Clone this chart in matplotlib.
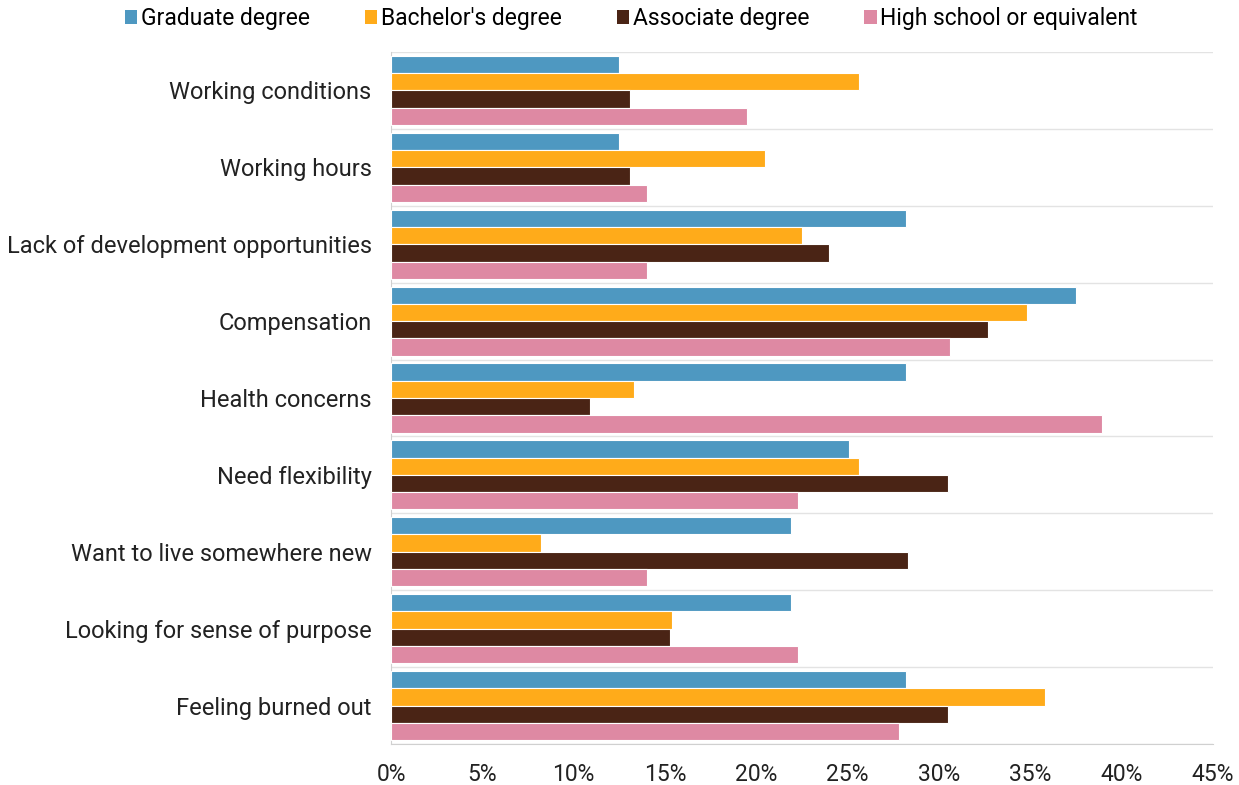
import matplotlib
matplotlib.use("Agg")
import matplotlib.pyplot as plt
import numpy as np
from matplotlib.ticker import FuncFormatter, MultipleLocator, FixedLocator
from matplotlib.patches import Patch

categories = ["Working conditions", "Working hours", "Lack of development opportunities",
              "Compensation", "Health concerns", "Need flexibility",
              "Want to live somewhere new", "Looking for sense of purpose", "Feeling burned out"]
series_names = ["Graduate degree", "Bachelor's degree", "Associate degree", "High school or equivalent"]
graduate = [12.5, 12.5, 28.2, 37.5, 28.2, 25.1, 21.9, 21.9, 28.2]
bachelor = [25.6, 20.5, 22.5, 34.8, 13.3, 25.6, 8.2, 15.4, 35.8]
associate = [13.1, 13.1, 24.0, 32.7, 10.9, 30.5, 28.3, 15.3, 30.5]
highschool = [19.5, 14.0, 14.0, 30.6, 38.9, 22.3, 14.0, 22.3, 27.8]
colors = ["#4E98C1", "#FFAB1A", "#4A2415", "#DE89A3"]

plt.rcParams['font.family'] = ['Roboto', 'DejaVu Sans']
fig = plt.figure(figsize=(12.39, 7.85), dpi=100)
ax = fig.add_axes([391/1239, 1-744/785, (1213-391)/1239, (744-52)/785])

fs = 17
n = len(categories)
y = np.arange(n)
h = 0.225
data = [graduate, bachelor, associate, highschool]
for i, (vals, c, name) in enumerate(zip(data, colors, series_names)):
    ax.barh(y - 1.5*h + i*h, vals, height=h, color=c, edgecolor='white', linewidth=0.8, label=name, zorder=3)

ax.set_ylim(n - 0.5, -0.5)
ax.set_xlim(0, 45)
ax.set_yticks(y)
ax.set_yticklabels(categories, fontsize=fs, color='#222222')
ax.yaxis.set_minor_locator(FixedLocator(np.arange(-0.5, n, 1)))
ax.grid(axis='y', which='minor', color='#E3E3E3', linewidth=1, zorder=0)
ax.xaxis.set_major_locator(MultipleLocator(5))
ax.xaxis.set_major_formatter(FuncFormatter(lambda v, p: f"{int(v)}%"))
ax.tick_params(axis='x', labelsize=16.5, colors='#222222', length=0, pad=14)
ax.tick_params(axis='y', which='both', length=0, pad=14)
for s in ['top', 'right']:
    ax.spines[s].set_visible(False)
ax.spines['left'].set_color('#D0D0D0')
ax.spines['bottom'].set_color('#D0D0D0')

handles = [Patch(facecolor=c, label=nm) for c, nm in zip(colors, series_names)]
fig.legend(handles=handles, loc='center', bbox_to_anchor=(631/1239, 1-19/785), ncol=4,
           frameon=False, fontsize=16.5, handlelength=0.55, handleheight=0.55,
           handletextpad=0.15, columnspacing=2.4)

fig.savefig("out.png", dpi=100, facecolor='white')
